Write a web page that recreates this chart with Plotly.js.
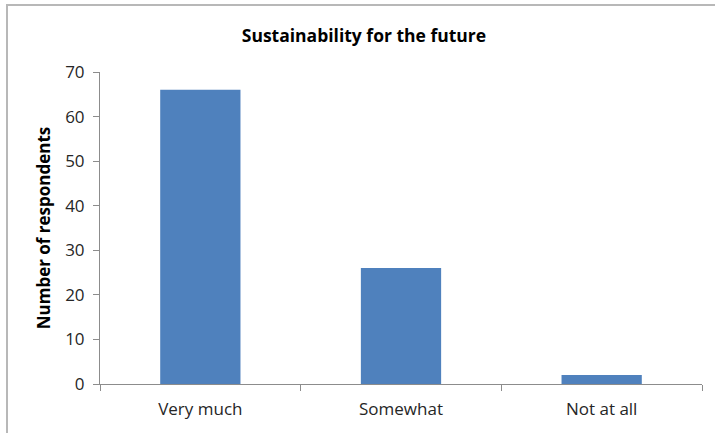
<!DOCTYPE html>
<html>
<head>
<meta charset="utf-8">
<script src="https://cdn.plot.ly/plotly-3.0.1.min.js"></script>
<style>
  html, body { margin: 0; padding: 0; background: #fff; }
  #frame { position: absolute; left: 6px; top: 4px; width: 709px; height: 429px;
           border-left: 2px solid #b8b8b8; border-top: 2px solid #b8b8b8; box-sizing: border-box; }
  #chart { position: absolute; left: 0; top: 0; width: 715px; height: 433px; }
</style>
</head>
<body>
<div id="frame"></div>
<div id="chart"></div>
<script>
// Survey answers: how much respondents value sustainability for the future
const categories = ["Very much", "Somewhat", "Not at all"];
const respondents = [66, 26, 2];
const yTicks = [0, 10, 20, 30, 40, 50, 60, 70];

const font = "'Open Sans', 'Noto Sans', sans-serif";

Plotly.newPlot("chart", [{
  type: "bar",
  x: categories,
  y: respondents,
  marker: { color: "#4f81bd" },
  width: 0.4,
  hoverinfo: "x+y"
}], {
  width: 715,
  height: 433,
  margin: { l: 100, r: 13, t: 72, b: 49 },
  paper_bgcolor: "rgba(0,0,0,0)",
  plot_bgcolor: "rgba(0,0,0,0)",
  showlegend: false,
  title: {
    text: "<b>Sustainability for the future</b>",
    font: { family: font, size: 17.5, color: "#000" },
    x: 0.509, xanchor: "center",
    y: 0.918, yanchor: "middle"
  },
  xaxis: {
    type: "category",
    showline: true, linecolor: "#8c8c8c", linewidth: 1,
    ticks: "outside", tickson: "boundaries", ticklen: 6, tickcolor: "#8c8c8c",
    ticklabelstandoff: 10,
    showgrid: false, zeroline: false,
    tickfont: { family: font, size: 17, color: "#262626" }
  },
  yaxis: {
    range: [0, 70],
    tickvals: yTicks,
    showline: true, linecolor: "#8c8c8c", linewidth: 1,
    ticks: "outside", ticklen: 6, tickcolor: "#8c8c8c",
    ticklabelstandoff: 5,
    showgrid: false, zeroline: false,
    tickfont: { family: font, size: 17, color: "#262626" },
    title: {
      text: "<b>Number of respondents</b>",
      font: { family: font, size: 17, color: "#000" },
      standoff: 10
    }
  }
}, { displayModeBar: false, staticPlot: true });
</script>
</body>
</html>
